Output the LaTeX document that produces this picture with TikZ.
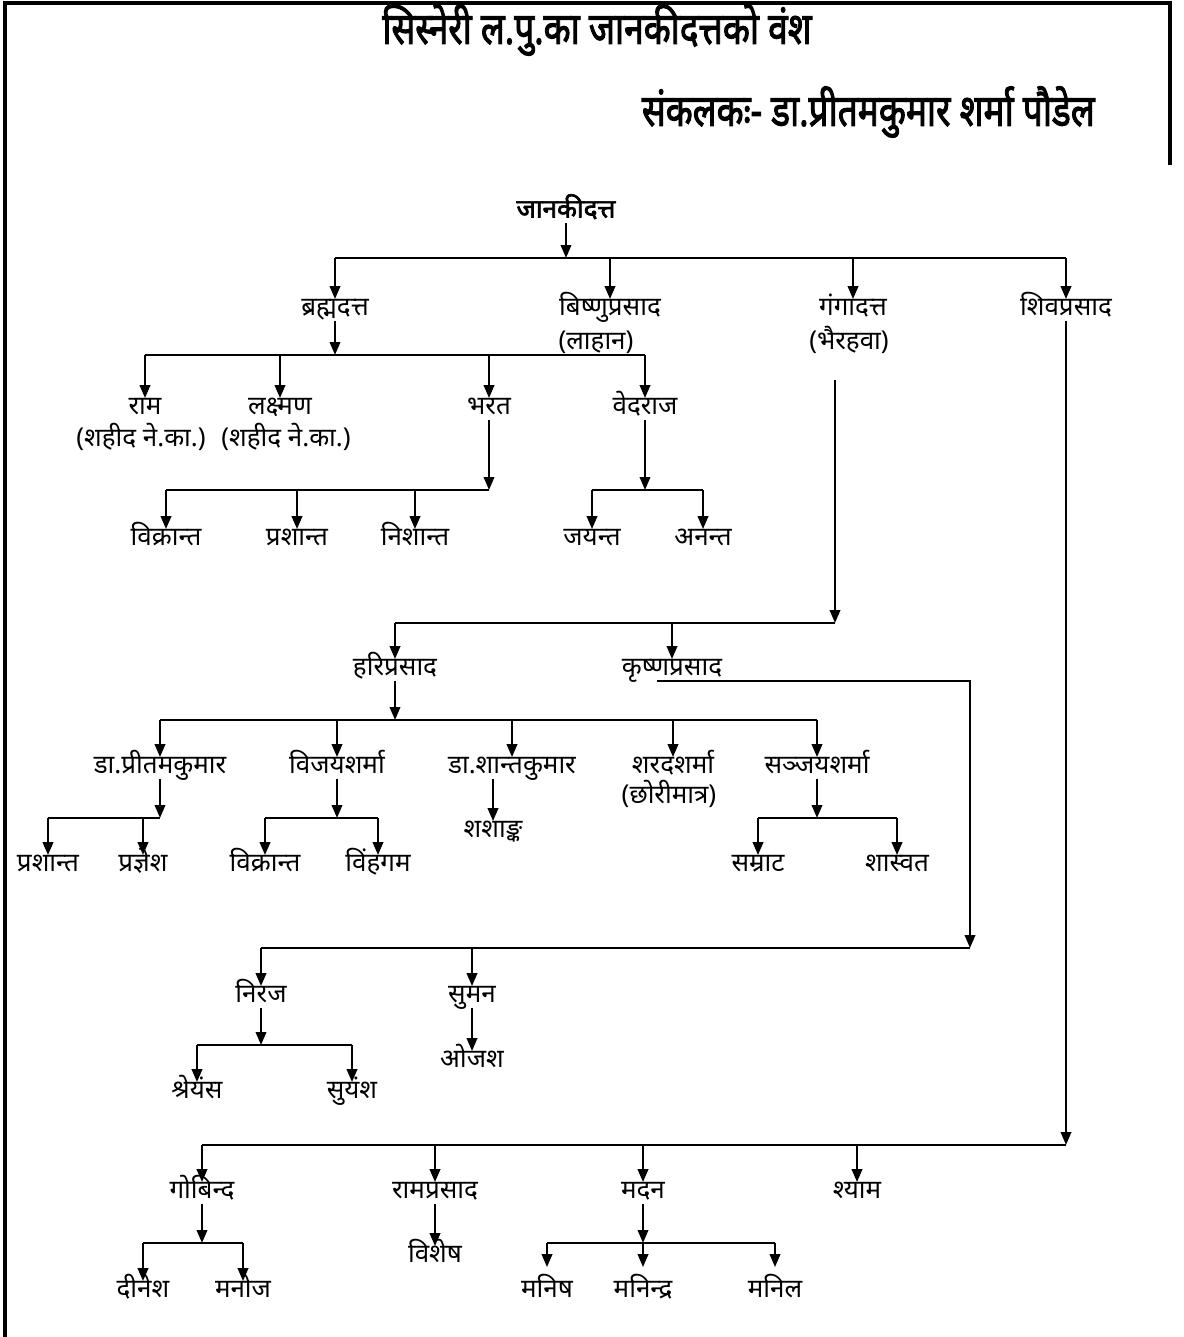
\documentclass[tikz,border=0pt]{standalone}
\usepackage{fontspec}
\usetikzlibrary{arrows.meta,positioning}
\newfontfamily\deva[Script=Devanagari]{Noto Sans}
\newfontfamily\devabold[Script=Devanagari, FakeBold=2.5]{Noto Sans}

\begin{document}
\begin{tikzpicture}[x=0.5pt, y=-0.5pt,
  person/.style={inner sep=0pt, text height=8pt, text depth=2.5pt, font=\deva\fontsize{13}{15}\selectfont},
  head/.style={inner sep=0pt, xscale=0.8, font=\devabold\fontsize{22}{26}\selectfont},
  arr/.style={-{Triangle[length=6.5pt,width=5.2pt]}, line width=1.2pt},
  bar/.style={line width=1.2pt}]
\useasboundingbox (0,0) rectangle (1183,1337);
\draw[line width=1.6pt] (5,1337) -- (5,3) -- (1170,3) -- (1170,165);
\node[head] (title) at (597,30) {सिस्नेरी ल.पु.का जानकीदत्तको वंश};
\node[head, anchor=east] (author) at (1095,112) {संकलकः- डा.प्रीतमकुमार शर्मा पौडेल};
% first generation
\node[person, font=\devabold\fontsize{13}{15}\selectfont] (root) at (566,212) {जानकीदत्त};
\node[person] (brahma) at (335,310) {ब्रह्मदत्त};
\node[person] (bishnu) at (610,310) {बिष्णुप्रसाद};
\node[person, below=6pt of bishnu, xshift=-7pt] (lahan) {(लाहान)};
\node[person] (ganga) at (853,310) {गंगादत्त};
\node[person, below=6pt of ganga, xshift=-2pt] (bhairahawa) {(भैरहवा)};
\node[person] (shiva) at (1066,310) {शिवप्रसाद};
\draw[arr] (root) -- (root |- 0,258);
\draw[bar] (brahma |- 0,258) -- (shiva |- 0,258);
\foreach \c in {brahma,bishnu,ganga,shiva} \draw[arr] (\c |- 0,258) -- (\c);
% brahmadatta
\node[person] (ram) at (145,409) {राम};
\node[person, below=5pt of ram, xshift=-2pt] (ramnote) {(शहीद ने.का.)};
\node[person] (laxman) at (280,409) {लक्ष्मण};
\node[person, below=5pt of laxman, xshift=3pt] (laxnote) {(शहीद ने.का.)};
\node[person] (bharat) at (489,409) {भरत};
\node[person] (vedraj) at (645,409) {वेदराज};
\draw[arr] (brahma) -- (brahma |- 0,355);
\draw[bar] (ram |- 0,355) -- (vedraj |- 0,355);
\foreach \c in {ram,laxman,bharat,vedraj} \draw[arr] (\c |- 0,355) -- (\c);
\node[person] (vikrant) at (166,540) {विक्रान्त};
\node[person] (prashant) at (297,540) {प्रशान्त};
\node[person] (nishant) at (415,540) {निशान्त};
\draw[arr] (bharat) -- (bharat |- 0,490);
\draw[bar] (vikrant |- 0,490) -- (bharat |- 0,490);
\foreach \c in {vikrant,prashant,nishant} \draw[arr] (\c |- 0,490) -- (\c);
\node[person] (jayant) at (592,540) {जयन्त};
\node[person] (anant) at (703,540) {अनन्त};
\draw[arr] (vedraj) -- (vedraj |- 0,490);
\draw[bar] (jayant |- 0,490) -- (anant |- 0,490);
\foreach \c in {jayant,anant} \draw[arr] (\c |- 0,490) -- (\c);
% gangadatta
\coordinate (gtop) at (835,380);
\coordinate (gbar) at (835,623);
\node[person] (hari) at (395,670) {हरिप्रसाद};
\node[person] (krishna) at (672,670) {कृष्णप्रसाद};
\draw[arr] (gtop) -- (gbar);
\draw[bar] (hari |- gbar) -- (gbar);
\foreach \c in {hari,krishna} \draw[arr] (\c |- gbar) -- (\c);
% hariprasad
\node[person] (pritam) at (160,768) {डा.प्रीतमकुमार};
\node[person] (vijaya) at (337,768) {विजयशर्मा};
\node[person] (shanta) at (512,768) {डा.शान्तकुमार};
\node[person] (sharad) at (673,768) {शरदशर्मा};
\node[person, below=4pt of sharad, xshift=-2pt] (chhori) {(छोरीमात्र)};
\node[person] (sanjaya) at (817,768) {सञ्जयशर्मा};
\draw[arr] (hari) -- (hari |- 0,720);
\draw[bar] (pritam |- 0,720) -- (sanjaya |- 0,720);
\foreach \c in {pritam,vijaya,shanta,sharad,sanjaya} \draw[arr] (\c |- 0,720) -- (\c);
\node[person] (prashantb) at (48,866) {प्रशान्त};
\node[person] (pragyesh) at (143,866) {प्रज्ञेश};
\draw[arr] (pritam) -- (pritam |- 0,818);
\draw[bar] (prashantb |- 0,818) -- (pritam |- 0,818);
\foreach \c in {prashantb,pragyesh} \draw[arr] (\c |- 0,818) -- (\c);
\node[person] (vikrantb) at (265,866) {विक्रान्त};
\node[person] (vihangam) at (378,866) {विंहगम};
\draw[arr] (vijaya) -- (vijaya |- 0,818);
\draw[bar] (vikrantb |- 0,818) -- (vihangam |- 0,818);
\foreach \c in {vikrantb,vihangam} \draw[arr] (\c |- 0,818) -- (\c);
\node[person] (shashank) at (493,832) {शशाङ्क};
\draw[arr] (shashank |- shanta.south) -- (shashank);
\node[person] (samrat) at (758,866) {सम्राट};
\node[person] (shaswat) at (897,866) {शास्वत};
\draw[arr] (sanjaya) -- (sanjaya |- 0,818);
\draw[bar] (samrat |- 0,818) -- (shaswat |- 0,818);
\foreach \c in {samrat,shaswat} \draw[arr] (\c |- 0,818) -- (\c);
% krishnaprasad
\coordinate (kbar) at (970,948);
\draw[arr] ([xshift=-7.5pt]krishna.south) -| (kbar);
\node[person] (niraj) at (261,997) {निरज};
\node[person] (suman) at (472,997) {सुमन};
\draw[bar] (niraj |- kbar) -- (kbar);
\foreach \c in {niraj,suman} \draw[arr] (\c |- kbar) -- (\c);
\node[person] (shreyans) at (197,1093) {श्रेयंस};
\node[person] (suyansh) at (352,1093) {सुयंश};
\draw[arr] (niraj) -- (niraj |- 0,1045);
\draw[bar] (shreyans |- 0,1045) -- (suyansh |- 0,1045);
\foreach \c in {shreyans,suyansh} \draw[arr] (\c |- 0,1045) -- (\c);
\node[person] (ojash) at (472,1062) {ओजश};
\draw[arr] (suman) -- (ojash);
% shivaprasad
\coordinate (sbar) at (shiva |- 0,1145);
\node[person] (gobinda) at (202,1193) {गोबिन्द};
\node[person] (ramprasad) at (435,1193) {रामप्रसाद};
\node[person] (madan) at (643,1193) {मदन};
\node[person] (shyam) at (857,1193) {श्याम};
\draw[arr] (shiva) -- (sbar);
\draw[bar] (gobinda |- sbar) -- (sbar);
\foreach \c in {gobinda,ramprasad,madan,shyam} \draw[arr] (\c |- sbar) -- (\c);
\node[person] (dinesh) at (143,1292) {दीनेश};
\node[person] (manoj) at (243,1292) {मनोज};
\draw[arr] (gobinda) -- (gobinda |- 0,1243);
\draw[bar] (dinesh |- 0,1243) -- (manoj |- 0,1243);
\foreach \c in {dinesh,manoj} \draw[arr] (\c |- 0,1243) -- (\c);
\node[person] (vishesh) at (435,1257) {विशेष};
\draw[arr] (ramprasad) -- (vishesh);
\node[person] (manish) at (547,1292) {मनिष};
\node[person] (manindra) at (643,1292) {मनिन्द्र};
\node[person] (manil) at (775,1292) {मनिल};
\draw[arr] (madan) -- (madan |- 0,1243);
\draw[bar] (manish |- 0,1243) -- (manil |- 0,1243);
\foreach \c in {manish,manindra,manil} \draw[arr, shorten >=7pt] (\c |- 0,1243) -- (\c);
\end{tikzpicture}
\end{document}
